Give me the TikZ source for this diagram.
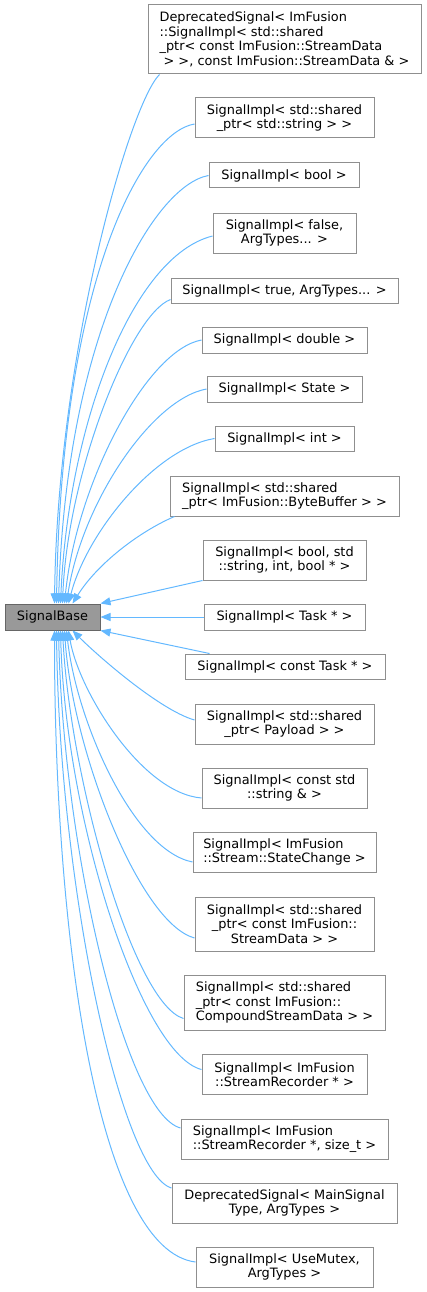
\documentclass[tikz,border=0pt]{standalone}
\usepackage{fontspec}
\setmainfont{DejaVu Sans}
\usetikzlibrary{arrows.meta}
\definecolor{edgeblue}{HTML}{63B8FF}
\definecolor{boxgray}{HTML}{8F8F8F}
\definecolor{basefill}{HTML}{999999}
\definecolor{baseborder}{HTML}{666666}
\tikzset{
  cls/.style={draw=boxgray, line width=1pt, fill=white, inner sep=0pt, align=center,
    font=\fontsize{12.9}{14.5}\selectfont},
  clsl/.style={cls, align=left},
  basecls/.style={cls, draw=baseborder, fill=basefill},
  inh/.style={draw=edgeblue, line width=1pt, -{Triangle[width=8pt,length=10pt]}, edgeblue},
}
\begin{document}
\begin{tikzpicture}[x=1pt,y=1pt]
\useasboundingbox (0,0) rectangle (427,-1292);
\node[basecls, minimum width=95, minimum height=26] (base) at (52.5,-617) {SignalBase};

\node[clsl, minimum width=273, minimum height=69] (n1) at (284.5,-39.5) {DeprecatedSignal< ImFusion\\::SignalImpl< std::shared\\\_ptr< const ImFusion::StreamData\\\hspace*{4pt}> >, const ImFusion::StreamData \& >};
\node[cls, minimum width=179, minimum height=40] (n2) at (284.5,-118) {SignalImpl< std::shared\\\_ptr< std::string > >};
\node[cls, minimum width=150, minimum height=25] (n3) at (284,-175.5) {SignalImpl< bool >};
\node[cls, minimum width=143, minimum height=40] (n4) at (284.5,-233) {SignalImpl< false,\\ArgTypes... >};
\node[cls, minimum width=227, minimum height=25] (n5) at (284.5,-290.5) {SignalImpl< true, ArgTypes... >};
\node[cls, minimum width=165, minimum height=26] (n6) at (284.5,-340) {SignalImpl< double >};
\node[cls, minimum width=155, minimum height=26] (n7) at (284.5,-389) {SignalImpl< State >};
\node[cls, minimum width=139, minimum height=25] (n8) at (284.5,-438.5) {SignalImpl< int >};
\node[clsl, minimum width=229, minimum height=40] (n9) at (284.5,-496) {SignalImpl< std::shared\\\_ptr< ImFusion::ByteBuffer > >};
\node[cls, minimum width=163, minimum height=40] (n10) at (284.5,-560) {SignalImpl< bool, std\\::string, int, bool * >};
\node[cls, minimum width=161, minimum height=26] (n11) at (284.5,-617) {SignalImpl< Task * >};
\node[cls, minimum width=200, minimum height=25] (n12) at (285,-666.5) {SignalImpl< const Task * >};
\node[cls, minimum width=179, minimum height=40] (n13) at (284.5,-724) {SignalImpl< std::shared\\\_ptr< Payload > >};
\node[cls, minimum width=165, minimum height=40] (n14) at (284.5,-788) {SignalImpl< const std\\::string \& >};
\node[clsl, minimum width=183, minimum height=40] (n15) at (284.5,-852) {SignalImpl< ImFusion\\::Stream::StateChange >};
\node[cls, minimum width=179, minimum height=54] (n16) at (284.5,-924) {SignalImpl< std::shared\\\_ptr< const ImFusion::\hspace*{10pt}\\StreamData > >};
\node[clsl, minimum width=201, minimum height=55] (n17) at (284.5,-1002.5) {SignalImpl< std::shared\\\_ptr< const ImFusion::\\CompoundStreamData > >};
\node[cls, minimum width=165, minimum height=40] (n18) at (284.5,-1074.5) {SignalImpl< ImFusion\\::StreamRecorder * >};
\node[clsl, minimum width=207, minimum height=40] (n19) at (284.5,-1139) {SignalImpl< ImFusion\\::StreamRecorder *, size\_t >};
\node[cls, minimum width=225, minimum height=40] (n20) at (284.5,-1203) {DeprecatedSignal< MainSignal\\Type, ArgTypes >};
\node[cls, minimum width=177, minimum height=40] (n21) at (284.5,-1267) {SignalImpl< UseMutex,\\ArgTypes >};

% upper edges
\draw[inh] ([xshift=12pt]n1.south west) .. controls +(-30,-30) and +(3,250) .. ([xshift=50pt]base.north west);
\draw[inh] ([yshift=-6pt]n2.west) .. controls +(-50,-8) and +(5,330) .. ([xshift=52pt]base.north west);
\draw[inh] (n3.west) .. controls +(-55,-10) and +(8,270) .. ([xshift=54pt]base.north west);
\draw[inh] ([yshift=-3pt]n4.west) .. controls +(-80,-20) and +(8,180) .. ([xshift=56pt]base.north west);
\draw[inh] ([yshift=-9pt]n5.west) .. controls +(-40,-15) and +(5,130) .. ([xshift=58pt]base.north west);
\draw[inh] (n6.west) .. controls +(-55,-10) and +(12,120) .. ([xshift=60pt]base.north west);
\draw[inh] (n7.west) .. controls +(-55,-10) and +(15,100) .. ([xshift=62pt]base.north west);
\draw[inh] (n8.west) .. controls +(-60,-10) and +(18,70) .. ([xshift=64pt]base.north west);
\draw[inh] ([xshift=5pt]n9.south west) .. controls +(-35,-15) and +(25,40) .. ([xshift=68pt]base.north west);
\draw[inh] (n10.south west) -- (base.north east);
\draw[inh] (n11.west) -- (base.east);
\draw[inh] ([xshift=25pt]n12.north west) -- (base.south east);
% lower edges
\draw[inh] ([yshift=4pt]n13.west) .. controls +(-35,10) and +(25,-25) .. ([xshift=68pt]base.south west);
\draw[inh] ([yshift=-10pt]n14.west) .. controls +(-60,5) and +(10,-60) .. ([xshift=64pt]base.south west);
\draw[inh] ([yshift=-10pt]n15.west) .. controls +(-60,12) and +(10,-90) .. ([xshift=62pt]base.south west);
\draw[inh] ([yshift=-14pt]n16.west) .. controls +(-55,15) and +(8,-120) .. ([xshift=60pt]base.south west);
\draw[inh] ([yshift=-16pt]n17.west) .. controls +(-50,15) and +(8,-150) .. ([xshift=58pt]base.south west);
\draw[inh] ([yshift=5pt]n18.west) .. controls +(-60,15) and +(5,-190) .. ([xshift=56pt]base.south west);
\draw[inh] ([yshift=11pt]n19.west) .. controls +(-55,15) and +(5,-220) .. ([xshift=54pt]base.south west);
\draw[inh] ([yshift=15pt]n20.west) .. controls +(-50,15) and +(3,-260) .. ([xshift=52pt]base.south west);
\draw[inh] ([yshift=5pt]n21.west) .. controls +(-96,12) and +(0,-316) .. ([xshift=50pt]base.south west);
\end{tikzpicture}
\end{document}
